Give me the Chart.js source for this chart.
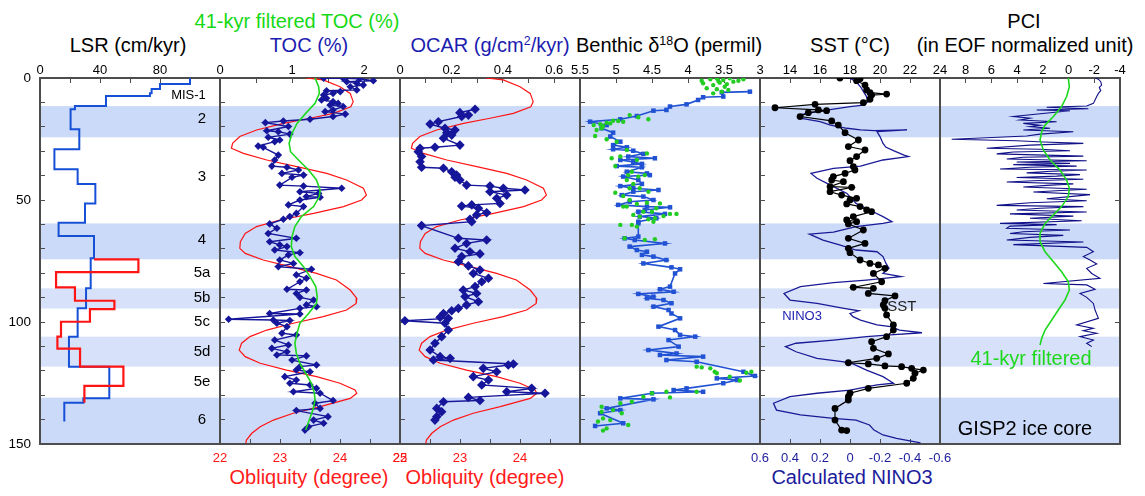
<!DOCTYPE html>
<html>
<head>
<meta charset="utf-8">
<script src="https://cdn.jsdelivr.net/npm/chart.js@4.4.1/dist/chart.umd.min.js"></script>
<style>
  body { margin: 0; background: #fff; }
  #wrap { position: relative; width: 1145px; height: 496px; overflow: hidden;
          font-family: "Liberation Sans", Arial, Helvetica, sans-serif; }
  #wrap canvas { position: absolute; left: 0; top: 0; }
  .t { position: absolute; transform: translate(-50%, -50%); white-space: nowrap;
       font-size: 20px; line-height: 1; color: #000; }
  .t sup { font-size: 62%; vertical-align: 0.55em; line-height: 0; }
</style>
</head>
<body>
<div id="wrap">
  <div class="t" style="left:297px;top:21px;color:#16d916">41-kyr filtered TOC (%)</div>
  <div class="t" style="left:128px;top:45px">LSR (cm/kyr)</div>
  <div class="t" style="left:309px;top:45px;color:#1c1cb0">TOC (%)</div>
  <div class="t" style="left:490px;top:45px;color:#1c1cb0">OCAR (g/cm<sup>2</sup>/kyr)</div>
  <div class="t" style="left:669px;top:45px">Benthic &#948;<sup>18</sup>O (permil)</div>
  <div class="t" style="left:850px;top:45px">SST (&#176;C)</div>
  <div class="t" style="left:1024px;top:21px">PCI</div>
  <div class="t" style="left:1025px;top:45px">(in EOF normalized unit)</div>
  <div class="t" style="left:309px;top:477px;color:#ff1a1a">Obliquity (degree)</div>
  <div class="t" style="left:485px;top:477px;color:#ff1a1a">Obliquity (degree)</div>
  <div class="t" style="left:852px;top:477px;color:#1c1c9c">Calculated NINO3</div>
</div>
<script>
// ---------------- DATA (age in kyr, value) ----------------
const ageTickLabels = [0, 50, 100, 150];

const misBandStart = [11.5, 59.6, 86.2, 106.0, 131.0];
const misBandEnd   = [24.3, 74.3, 94.5, 118.3, 150.0];
const misBandFaint = [false, false, true, true, false];
const misNames = ['MIS-1', '2', '3', '4', '5a', '5b', '5c', '5d', '5e', '6'];
const misAges  = [7.3, 16.9, 40.4, 66.4, 80.0, 90.0, 99.9, 112.2, 124.5, 140.2];

// LSR step curves: boundaries (age) and rate for each interval
const lsrBlueBounds = [0, 2.5, 4.5, 6.3, 7.4, 11.5, 12.8, 21.0, 29.2, 37.4, 43.4, 51.4, 59.3, 64.8, 73.9, 86.2, 94.4, 106.0, 118.3, 131.3, 133.1, 140.8];
const lsrBlueRate   = [100, 80, 74.4, 73.3, 44, 23.3, 20.4, 26.2, 9.6, 25.1, 36.9, 30, 12.4, 36, 33.8, 30.7, 25.1, 19.3, 46.2, 28.9, 16.2];
const lsrRedBounds  = [74.3, 74.3, 79.6, 85.8, 91.3, 94.7, 99.9, 106.0, 110.9, 118.3, 126.2, 133.1];
const lsrRedRate    = [36, 65.6, 10.7, 23.3, 49.6, 33.3, 14, 11.6, 26.7, 55.6, 29.6];

// Obliquity (degree)
const obliquity = [[0,23.43],[0.8,23.72],[3.6,24.0],[6.3,24.17],[9.7,24.22],[11.8,24.18],[14.5,23.89],[16.5,23.5],[18.6,23.06],[21.3,22.61],[24.0,22.33],[26.8,22.21],[28.8,22.19],[30.9,22.39],[33.6,22.78],[36.3,23.28],[39.1,23.78],[41.8,24.11],[45.2,24.39],[48.0,24.44],[50.0,24.36],[52.7,24.06],[55.5,23.56],[58.2,23.0],[60.9,22.61],[63.7,22.42],[67.1,22.34],[69.8,22.33],[71.9,22.42],[74.6,22.72],[77.3,23.17],[80.1,23.61],[82.8,23.94],[86.9,24.17],[90.3,24.28],[92.4,24.27],[95.1,24.11],[97.8,23.72],[100.5,23.22],[103.3,22.78],[106.0,22.5],[108.7,22.36],[111.5,22.32],[114.2,22.42],[116.9,22.67],[119.7,23.11],[122.4,23.61],[125.1,24.0],[127.9,24.25],[129.2,24.28],[131.3,24.17],[134.7,23.67],[137.4,23.22],[140.2,22.89],[142.9,22.67],[145.6,22.53],[148.4,22.44],[149.7,22.43]];

// TOC (%)
const toc = [[0.1,1.44],[0.1,1.71],[0.3,1.94],[1.1,2.13],[1.5,1.76],[2.2,1.90],[2.9,1.99],[3.6,1.81],[4.9,1.90],[5.2,1.48],[5.6,1.67],[6.3,1.57],[7.0,1.44],[8.3,1.48],[9.0,1.41],[9.7,1.57],[10.4,1.64],[11.1,1.53],[11.7,1.71],[13.1,1.57],[13.8,1.46],[14.8,1.74],[15.8,1.57],[16.9,1.25],[17.6,0.88],[18.3,0.63],[19.9,0.95],[21.6,0.65],[22.0,0.81],[23.0,0.97],[24.3,0.67],[25.4,0.83],[26.1,0.76],[27.9,0.53],[28.4,0.60],[31.6,0.81],[33.6,0.76],[36.1,0.72],[36.6,0.93],[37.7,1.09],[39.1,0.86],[39.8,1.16],[40.7,1.00],[43.9,0.83],[44.3,1.16],[45.2,1.69],[46.6,1.11],[47.3,1.37],[48.6,1.20],[48.9,1.39],[50.0,1.11],[52.0,0.95],[52.7,1.16],[55.5,1.06],[56.8,0.97],[57.9,0.88],[59.8,0.69],[61.6,0.79],[63.7,0.67],[65.7,1.06],[67.1,0.69],[68.4,0.83],[69.1,0.93],[70.5,0.76],[71.6,1.11],[72.5,0.95],[74.6,0.83],[76.0,1.02],[77.3,0.81],[78.4,1.27],[80.7,1.06],[82.1,1.20],[83.5,1.11],[86.6,0.93],[86.9,1.20],[88.3,1.06],[89.9,1.11],[91.0,1.30],[93.0,1.20],[93.7,1.34],[94.4,1.11],[96.5,0.69],[96.7,1.11],[98.9,0.12],[99.2,0.74],[99.4,0.97],[100.5,0.79],[101.9,0.93],[104.6,0.86],[105.3,1.06],[107.4,0.76],[109.4,0.95],[110.8,0.72],[112.2,0.93],[113.5,0.79],[113.9,1.20],[115.6,1.00],[117.6,1.34],[118.3,1.11],[119.7,1.06],[120.4,1.25],[122.4,0.90],[123.8,1.06],[125.1,0.97],[125.8,1.25],[127.2,1.34],[128.6,1.02],[129.2,1.39],[132.2,1.57],[133.3,1.32],[135.4,1.39],[136.3,1.06],[138.8,1.50],[140.2,1.30],[141.5,1.44],[142.9,1.23],[144.3,1.18]];

// 41-kyr filtered TOC (%)
const tocFiltered = [[0,1.32],[3.6,1.37],[6.3,1.38],[10.4,1.32],[14.5,1.19],[18.6,1.07],[22.7,1.0],[26.8,0.96],[30.2,0.98],[33.6,1.09],[37.7,1.23],[41.8,1.34],[45.9,1.39],[48.6,1.38],[52.7,1.30],[56.8,1.13],[60.9,1.04],[65.0,1.0],[69.1,0.99],[73.2,1.04],[77.3,1.16],[81.4,1.25],[85.5,1.33],[89.6,1.35],[92.4,1.34],[96.5,1.23],[100.5,1.11],[104.6,1.07],[108.7,1.04],[112.9,1.06],[117.0,1.11],[121.0,1.19],[125.1,1.27],[129.2,1.31],[131.9,1.32],[136.1,1.29],[140.2,1.24],[144.3,1.19]];

// OCAR (g/cm2/kyr)
const ocar = [[12.8,0.292],[14.2,0.233],[15.2,0.266],[15.8,0.240],[17.9,0.149],[18.9,0.117],[20.6,0.175],[21.3,0.214],[22.4,0.182],[23.4,0.201],[24.7,0.169],[27.5,0.233],[28.4,0.136],[28.8,0.078],[30.2,0.071],[32.2,0.084],[34.3,0.078],[36.6,0.084],[37.0,0.169],[38.4,0.201],[39.8,0.220],[40.7,0.214],[41.8,0.233],[43.9,0.259],[44.3,0.350],[45.2,0.402],[45.9,0.486],[46.6,0.350],[48.0,0.415],[49.3,0.376],[51.4,0.389],[52.0,0.279],[52.5,0.240],[53.4,0.305],[55.2,0.337],[56.1,0.298],[57.9,0.272],[58.9,0.279],[60.5,0.084],[65.7,0.227],[66.4,0.337],[67.8,0.259],[69.8,0.214],[71.2,0.272],[72.1,0.311],[73.2,0.240],[75.3,0.227],[77.0,0.266],[78.7,0.311],[80.1,0.285],[82.1,0.344],[83.5,0.318],[85.5,0.292],[86.9,0.246],[88.3,0.298],[89.6,0.253],[91.7,0.305],[93.0,0.259],[94.4,0.227],[95.4,0.201],[96.5,0.169],[98.1,0.156],[98.5,0.188],[99.5,0.019],[100.5,0.175],[103.3,0.188],[106.0,0.162],[108.7,0.136],[111.5,0.117],[114.2,0.156],[114.9,0.195],[115.6,0.130],[117.2,0.441],[117.6,0.421],[119.0,0.324],[120.4,0.376],[122.4,0.285],[123.8,0.344],[125.8,0.318],[127.2,0.512],[128.6,0.415],[129.2,0.564],[130.9,0.266],[132.2,0.311],[132.7,0.169],[135.4,0.143],[136.8,0.162],[138.8,0.143],[140.2,0.136]];

// Benthic d18O (permil): line record and second (green) record
const benthic = [[5.6,3.14],[5.9,3.53],[7.6,3.51],[7.9,3.79],[9.0,3.86],[10.8,4.02],[11.7,4.25],[13.1,4.30],[13.4,4.48],[15.6,4.71],[16.9,4.94],[17.9,5.36],[19.3,5.13],[20.6,5.20],[22.4,5.04],[24.0,5.08],[26.1,4.94],[27.5,5.04],[28.4,4.85],[29.2,5.04],[29.8,4.76],[31.1,4.62],[32.2,4.83],[32.9,4.46],[33.6,4.94],[34.4,4.76],[35.2,4.64],[36.1,4.99],[36.6,4.64],[38.4,4.85],[39.1,4.57],[39.8,4.53],[40.4,4.90],[41.8,4.69],[43.4,4.64],[44.3,4.94],[45.2,4.76],[45.9,4.41],[46.6,4.76],[48.0,4.92],[48.6,4.62],[50.0,4.48],[50.7,4.81],[52.0,4.97],[52.7,4.57],[53.0,4.25],[54.1,4.60],[54.8,4.69],[55.7,4.32],[56.8,4.67],[57.5,4.44],[58.9,4.69],[59.6,4.69],[65.0,4.69],[65.7,4.88],[66.4,4.74],[67.8,4.32],[69.1,4.81],[70.5,4.71],[71.2,4.57],[72.5,4.64],[73.2,4.48],[74.6,4.30],[76.0,4.62],[77.6,4.23],[78.4,4.11],[80.1,4.18],[85.5,4.25],[86.6,4.39],[87.6,4.20],[88.5,4.69],[89.6,4.48],[90.3,4.57],[91.0,4.34],[92.3,4.23],[93.7,4.48],[95.1,4.27],[96.5,4.23],[98.5,4.11],[101.9,4.41],[103.3,4.18],[105.3,4.11],[106.0,3.90],[107.4,4.27],[110.1,4.13],[111.5,4.55],[112.9,4.16],[113.5,4.39],[114.2,3.79],[115.6,4.30],[116.3,3.88],[120.4,3.23],[122.1,3.07],[123.1,3.60],[123.8,3.32],[125.1,3.51],[127.2,4.02],[127.9,4.20],[128.6,3.79],[129.2,4.50],[131.3,4.94],[131.7,4.48],[135.4,5.13],[136.1,4.94],[137.4,5.22],[141.5,4.90],[142.6,5.29]];
const benthicGreen = [[1.1,3.81],[0.5,3.69],[0.1,3.60],[0.8,3.51],[0.1,3.42],[1.1,3.30],[0.5,3.23],[2.2,3.79],[2.9,3.65],[1.9,3.56],[2.5,3.46],[4.2,3.74],[4.6,3.60],[3.6,3.49],[1.5,3.37],[5.6,3.53],[6.3,3.65],[4.9,3.44],[1.1,3.58],[16.9,4.55],[16.1,4.69],[15.2,4.81],[17.9,4.90],[17.5,5.04],[18.3,5.13],[18.9,5.22],[19.3,5.31],[19.7,5.18],[21.3,5.27],[23.8,5.29],[18.6,5.08],[17.6,4.97],[20.6,5.20],[25.1,5.13],[26.1,4.99],[29.5,4.85],[30.9,4.57],[32.2,4.94],[32.9,5.06],[36.1,5.01],[33.6,4.71],[39.8,4.83],[40.4,4.69],[41.8,4.85],[43.4,4.76],[47.0,5.01],[48.4,4.90],[50.0,4.81],[51.6,4.71],[51.1,4.57],[52.7,4.85],[56.1,4.76],[56.8,4.67],[57.9,4.55],[58.9,4.48],[53.4,4.44],[56.6,4.34],[55.7,4.25],[55.7,4.16],[51.4,4.39],[46.6,4.55],[45.2,4.67],[45.2,4.81],[54.8,4.62],[52.7,4.90],[60.2,4.94],[60.2,4.78],[60.9,4.71],[65.7,4.88],[66.4,4.60],[66.1,4.46],[54.8,4.50],[57.5,4.46],[39.8,4.60],[38.4,4.78],[118.3,3.88],[118.6,3.81],[119.0,3.69],[120.4,3.63],[121.0,3.60],[122.4,3.42],[124.0,3.28],[120.8,3.19],[120.4,3.12],[128.6,3.88],[128.6,4.30],[129.2,4.50],[130.6,4.62],[132.7,4.78],[133.3,4.94],[134.7,5.20],[136.1,5.04],[139.5,5.18],[140.8,5.25],[140.2,5.08],[143.6,5.13],[144.5,5.18],[142.2,4.83],[136.8,5.20],[137.4,4.92],[130.9,4.25]];

// SST (deg C)
const sst = [[0.0,17.33],[0.3,18.67],[1.1,18.44],[2.9,19.0],[4.9,19.11],[6.0,19.33],[6.6,20.44],[7.0,19.44],[8.7,19.33],[10.1,18.89],[10.8,15.67],[12.2,13.0],[13.1,15.89],[13.4,16.44],[14.2,15.22],[15.8,14.67],[17.6,16.78],[19.3,17.22],[22.4,17.67],[25.4,18.56],[28.1,17.89],[29.5,19.0],[32.2,18.44],[33.9,18.0],[36.3,18.22],[37.7,18.33],[39.1,17.67],[40.4,16.89],[41.8,16.78],[42.5,17.56],[44.5,16.67],[44.8,18.11],[46.6,16.67],[48.0,17.44],[49.3,18.44],[50.0,18.0],[51.6,17.78],[52.7,18.67],[54.1,19.11],[54.8,19.44],[56.8,18.22],[58.2,17.78],[58.9,18.44],[59.8,17.89],[62.3,18.89],[65.7,17.89],[67.8,19.0],[69.8,17.89],[71.6,18.0],[74.6,18.67],[76.0,19.33],[76.6,19.89],[78.0,20.33],[80.1,19.56],[83.5,20.11],[85.8,18.22],[86.2,19.56],[88.3,19.22],[89.3,21.0],[91.3,20.33],[93.0,20.22],[94.4,20.33],[97.1,20.44],[101.2,20.89],[103.3,20.89],[106.0,20.44],[108.1,19.44],[110.8,19.56],[113.1,20.56],[114.9,19.78],[116.7,17.89],[117.2,19.22],[118.0,20.33],[118.3,21.44],[119.0,22.11],[119.7,22.89],[121.0,22.33],[123.1,22.22],[125.1,21.78],[127.2,19.22],[129.2,18.0],[130.6,17.89],[132.0,17.89],[135.4,17.0],[140.2,17.0],[144.3,17.44],[144.5,17.78]];

// Calculated NINO3
const nino3 = [[0,0.02],[0.1,0.0],[1.5,-0.04],[3.6,-0.07],[5.6,-0.09],[7.6,-0.11],[9.7,-0.12],[11.1,-0.09],[11.7,0.0],[13.8,0.22],[15.2,0.34],[16.5,0.33],[17.9,0.2],[19.3,0.13],[20.6,0.02],[21.3,-0.07],[21.6,-0.16],[21.3,-0.38],[22.0,-0.18],[24.0,-0.2],[26.8,-0.22],[28.4,-0.24],[29.8,-0.29],[31.6,-0.36],[32.2,-0.39],[33.6,-0.22],[36.1,-0.07],[37.0,0.11],[39.1,0.26],[41.1,0.22],[43.9,0.13],[47.3,0.02],[51.4,-0.04],[54.1,-0.13],[56.8,-0.22],[58.9,-0.28],[59.6,-0.22],[60.9,-0.04],[63.2,0.11],[64.0,0.27],[66.4,0.18],[68.4,0.07],[70.5,-0.04],[71.2,-0.18],[73.2,-0.22],[76.0,-0.24],[78.0,-0.26],[80.1,-0.22],[81.4,-0.34],[82.8,-0.11],[83.9,0.11],[85.5,0.33],[88.3,0.44],[91.0,0.4],[92.4,0.22],[94.4,0.04],[95.4,-0.06],[96.5,0.0],[97.8,-0.02],[99.2,-0.07],[101.2,-0.18],[101.9,-0.27],[103.3,-0.33],[104.4,-0.48],[105.3,-0.27],[106.0,-0.11],[107.4,0.11],[108.7,0.36],[110.1,0.43],[112.2,0.36],[114.9,0.22],[116.3,0.04],[117.2,-0.02],[119.7,-0.11],[122.4,-0.22],[125.1,-0.29],[125.8,-0.18],[127.9,0.0],[129.2,0.22],[130.6,0.4],[133.3,0.51],[136.1,0.49],[138.1,0.33],[139.5,0.11],[140.2,-0.04],[142.2,-0.13],[144.3,-0.16],[146.3,-0.22],[147.7,-0.31],[149.5,-0.47]];

// PCI (EOF normalized unit), GISP2
const pci = [[0,-2.06],[0.5,-2.32],[1.5,-2.5],[2.9,-2.57],[3.8,-2.39],[5.2,-2.5],[6.3,-2.32],[7.6,-2.19],[9.0,-2.06],[10.4,-1.93],[11.5,-1.41],[12.0,1.7],[12.6,-1.54],[13.1,2.48],[13.4,-0.11],[15.8,4.3],[16.5,3.0],[17.2,3.78],[17.9,0.93],[18.6,3.52],[19.4,2.22],[19.9,3.0],[20.6,1.44],[21.3,3.52],[22.0,-0.37],[23.0,2.22],[23.8,3.26],[25.1,9.09],[25.7,4.04],[26.2,1.96],[26.8,-1.15],[27.5,3.0],[28.8,6.37],[29.2,2.22],[29.8,-0.11],[30.3,4.3],[31.1,5.59],[32.0,-1.15],[32.5,3.52],[33.2,4.81],[33.9,-1.41],[34.4,4.04],[35.0,-0.11],[35.5,4.3],[36.1,-0.63],[36.6,3.0],[37.3,5.33],[37.7,-1.41],[38.3,1.7],[38.9,3.26],[39.6,-0.89],[40.2,0.93],[40.8,4.04],[41.5,-1.15],[42.1,2.74],[42.6,4.81],[43.4,-0.37],[44.0,1.7],[44.7,3.52],[45.6,-1.41],[46.2,0.93],[46.7,2.74],[47.8,-1.67],[48.6,-0.11],[49.5,1.7],[50.3,-1.41],[51.1,3.0],[52.2,5.59],[52.7,-1.15],[53.4,2.22],[54.1,4.04],[54.9,-1.41],[55.7,4.56],[56.6,-0.37],[57.5,3.0],[58.5,-1.02],[59.6,5.33],[60.1,0.93],[60.7,4.56],[61.6,4.81],[62.3,-0.11],[63.0,3.52],[63.7,4.56],[64.5,0.41],[65.3,3.0],[66.4,4.81],[67.2,-1.15],[68.3,4.3],[69.4,-1.41],[71.2,-1.93],[73.2,-1.15],[74.6,-1.67],[76.2,-2.19],[78.0,-1.41],[80.1,-1.8],[82.1,-2.44],[84.2,1.96],[84.8,-1.41],[86.6,-2.06],[88.3,-0.89],[89.9,-1.41],[92.4,-1.93],[95.1,-2.06],[98.5,-2.32],[101.2,-0.63],[102.6,-1.93],[103.6,-1.15],[104.6,-2.19],[106.0,-0.89],[107.4,-1.93],[108.7,-1.41],[110.1,-1.8]];
const pciFiltered = [[0,0.02],[3.6,-0.06],[7.6,0.15],[11.7,0.54],[15.8,1.18],[19.3,1.83],[22.0,2.09],[25.4,2.22],[29.5,1.96],[33.6,1.44],[37.7,0.67],[41.8,0.15],[45.2,-0.06],[48.6,0.02],[52.7,0.54],[56.1,1.18],[59.6,1.83],[63.7,2.22],[67.1,2.22],[71.2,1.83],[75.3,1.18],[79.4,0.54],[83.5,0.02],[86.9,-0.06],[91.0,0.28],[95.1,0.8],[99.2,1.31],[103.3,1.83],[106.7,2.09],[109.4,2.22]];

// ---------------- DRAWING ----------------
const W = 1145, H = 496, PLOT_TOP = 78, PLOT_BOTTOM = 444;
const AXIS_H = 30, LEFT_W = 40, RIGHT_W = 10;
const FONT = '"Liberation Sans", Arial, Helvetica, sans-serif';
const AX = '#4d4d4d';
const NAVY = '#16169a', BLUE = '#1650d6', BBLUE = '#2152d3', RED = '#ff1414', GREEN = '#1ed81e';
Chart.defaults.font.family = FONT;

const pts = (arr) => arr.map(([age, v]) => ({ x: v, y: age }));
function steps(bounds, rates) {
  const out = [];
  rates.forEach((r, i) => { out.push({ x: r, y: bounds[i] }); out.push({ x: r, y: bounds[i + 1] }); });
  return out;
}
const r1 = (v) => Math.round(v * 10) / 10;

function hAxis(position, min, max, step, labelFn, opt = {}) {
  return {
    type: 'linear', axis: 'x', position, min, max, reverse: !!opt.reverse,
    afterFit: (s) => { s.height = AXIS_H; },
    border: { display: true, color: AX, width: 2 },
    grid: { display: true, drawOnChartArea: false, drawTicks: opt.noTicks ? false : true, tickLength: -5, color: AX, lineWidth: 1 },
    ticks: { display: !opt.noLabels, stepSize: step, autoSkip: false, maxRotation: 0, minRotation: 0,
             padding: position === 'top' ? 5 : 12, color: opt.color || '#000',
             font: { family: FONT, size: 13 }, callback: labelFn || (() => '') }
  };
}
function vAxis(position, showLabels, drawTicks, step) {
  return {
    type: 'linear', axis: 'y', position, min: 0, max: 150, reverse: true,
    afterFit: (s) => { s.width = position === 'left' ? LEFT_W : RIGHT_W; },
    border: { display: true, color: AX, width: 2 },
    grid: { display: true, drawOnChartArea: false, drawTicks, tickLength: -5, color: AX, lineWidth: 1 },
    ticks: { stepSize: step || 10, autoSkip: false, padding: 14, color: '#000', font: { family: FONT, size: 13.5 },
             callback: (v) => (showLabels && ageTickLabels.includes(Math.round(v)) ? String(Math.round(v)) : '') }
  };
}

const bandPlugin = {
  id: 'misBands',
  beforeDraw(chart) {
    const { ctx, chartArea: a, scales } = chart;
    const y = scales.y;
    ctx.save();
    misBandStart.forEach((s, i) => {
      const t = y.getPixelForValue(s), b = y.getPixelForValue(misBandEnd[i]);
      ctx.fillStyle = misBandFaint[i] ? '#d7e2fa' : '#cbdaf8';
      ctx.fillRect(a.left, t, a.right - a.left, b - t);
    });
    ctx.restore();
  }
};
function notesPlugin(list) {
  return {
    id: 'notes',
    afterDatasetsDraw(chart) {
      const ctx = chart.ctx;
      ctx.save();
      list.forEach((n) => {
        const xs = chart.scales[n.xAxis || 'x'], ys = chart.scales.y;
        ctx.font = (n.size || 14) + 'px ' + FONT;
        ctx.fillStyle = n.color || '#000';
        ctx.textAlign = n.align || 'center';
        ctx.textBaseline = 'middle';
        ctx.fillText(n.text, xs.getPixelForValue(n.x), ys.getPixelForValue(n.y));
      });
      ctx.restore();
    }
  };
}

function panel(left, right, scales, datasets, extra) {
  const c = document.createElement('canvas');
  c.width = W; c.height = H; c.style.width = W + 'px'; c.style.height = H + 'px';
  document.getElementById('wrap').appendChild(c);
  const hasRight = !!scales.y2;
  return new Chart(c, {
    type: 'scatter',
    data: { datasets },
    options: {
      responsive: false, animation: false, devicePixelRatio: 1, events: [],
      layout: { padding: { left: left - LEFT_W, right: W - right - (hasRight ? RIGHT_W : 0),
                           top: PLOT_TOP - AXIS_H, bottom: H - PLOT_BOTTOM - AXIS_H } },
      plugins: { legend: { display: false }, tooltip: { enabled: false } },
      scales
    },
    plugins: [bandPlugin].concat(extra || [])
  });
}
const lineDs = (data, color, width, xAxisID, more) => Object.assign({
  data, xAxisID, yAxisID: 'y', showLine: true, borderColor: color, backgroundColor: color,
  borderWidth: width, pointRadius: 0, tension: 0, fill: false
}, more || {});

// Panel 1: LSR
panel(40, 220, {
  x: hAxis('top', 0, 120, 20, (v) => ([0, 40, 80].includes(Math.round(v)) ? String(Math.round(v)) : '')),
  xb: hAxis('bottom', 0, 120, 20, null, { noTicks: true, noLabels: true }),
  y: vAxis('left', true, true)
}, [
  lineDs(steps(lsrRedBounds, lsrRedRate), RED, 2.2, 'x'),
  lineDs(steps(lsrBlueBounds, lsrBlueRate), BLUE, 2, 'x')
], [notesPlugin(misNames.map((t, i) => ({ text: t, x: i === 0 ? 99 : 108, y: misAges[i], size: i === 0 ? 13 : 15 })))]);

// Panel 2: TOC
panel(220, 400, {
  x: hAxis('top', 0, 2.5, 0.5, (v) => (Math.abs(v - Math.round(v)) < 1e-6 && v < 2.2 ? String(Math.round(v)) : '')),
  xo: hAxis('bottom', 22, 25, 0.5, (v) => (Math.abs(v - Math.round(v)) < 1e-6 ? String(Math.round(v)) : ''), { color: RED }),
  y: vAxis('left', false, true)
}, [
  lineDs(pts(tocFiltered), GREEN, 1.6, 'x'),
  lineDs(pts(toc), NAVY, 1.4, 'x', { pointStyle: 'rectRot', pointRadius: 3.8, pointBorderWidth: 0, pointBackgroundColor: NAVY }),
  lineDs(pts(obliquity), RED, 1.2, 'xo')
]);

// Panel 3: OCAR
panel(400, 580, {
  x: hAxis('top', 0, 0.7, 0.1, (v) => { const k = Math.round(v * 10); return (k % 2 === 0 && k <= 6) ? (k === 0 ? '0' : (k / 10).toFixed(1)) : ''; }),
  xo: hAxis('bottom', 22, 25, 0.5, (v) => (Math.abs(v - Math.round(v)) < 1e-6 && v < 24.5 ? String(Math.round(v)) : ''), { color: RED }),
  y: vAxis('left', false, true)
}, [
  lineDs(pts(ocar), NAVY, 1.4, 'x', { pointStyle: 'rectRot', pointRadius: 4.8, pointBorderWidth: 0, pointBackgroundColor: NAVY }),
  lineDs(pts(obliquity), RED, 1.2, 'xo')
]);

// Panel 4: Benthic d18O
panel(580, 760, {
  x: hAxis('top', 3, 5.5, 0.5, (v) => String(r1(v)), { reverse: true }),
  xb: hAxis('bottom', 3, 5.5, 0.5, null, { noTicks: true, noLabels: true, reverse: true }),
  y: vAxis('left', false, true)
}, [
  { data: pts(benthicGreen), xAxisID: 'x', yAxisID: 'y', showLine: false, pointRadius: 2.2, pointBorderWidth: 0, pointBackgroundColor: '#22cc22', backgroundColor: '#22cc22' },
  lineDs(pts(benthic), BBLUE, 1.6, 'x', { pointStyle: 'rect', pointRadius: 3.2, pointBorderWidth: 0, pointBackgroundColor: BBLUE })
]);

// Panel 5: SST / NINO3
panel(760, 940, {
  x: hAxis('top', 12, 24, 2, (v) => (v >= 14 ? String(Math.round(v)) : '')),
  xn: hAxis('bottom', -0.6, 0.6, 0.2, (v) => { const r = r1(v); return r === 0 ? '0' : String(r); }, { reverse: true, color: '#1c1c9c' }),
  y: vAxis('left', false, true)
}, [
  lineDs(pts(sst), '#000', 1.2, 'x', { pointRadius: 3.4, pointBorderWidth: 0, pointBackgroundColor: '#000' }),
  lineDs(pts(nino3), '#1a1a96', 1.3, 'xn')
], [notesPlugin([
  { text: 'SST', x: 21.45, y: 93.7, size: 15, color: '#222' },
  { text: 'NINO3', x: 14.8, y: 97.8, size: 13, color: '#1c1cb0' }
])]);

// Panel 6: PCI
panel(940, 1120, {
  x: hAxis('top', -4, 10, 2, (v) => (v < 9.5 ? String(Math.round(v)) : ''), { reverse: true }),
  xb: hAxis('bottom', -4, 10, 2, null, { noTicks: true, noLabels: true, reverse: true }),
  y: vAxis('left', false, false),
  y2: vAxis('right', false, true, 50)
}, [
  lineDs(pts(pciFiltered), GREEN, 1.6, 'x'),
  lineDs(pts(pci), '#101088', 1.1, 'x')
], [notesPlugin([
  { text: '41-kyr filtered', x: 2.92, y: 115.2, size: 20, color: GREEN },
  { text: 'GISP2 ice core', x: 3.39, y: 143.9, size: 20, color: '#000' }
])]);
</script>
</body>
</html>
